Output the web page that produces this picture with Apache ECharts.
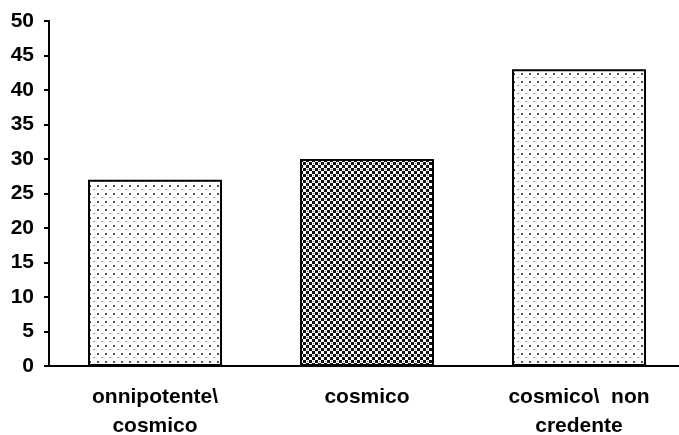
<!DOCTYPE html>
<html>
<head>
<meta charset="utf-8">
<script src="https://cdn.jsdelivr.net/npm/echarts@6/dist/echarts.min.js"></script>
<style>
  html, body { margin: 0; padding: 0; background: #fff; }
  #chart { width: 679px; height: 435px; }
</style>
</head>
<body>
<div id="chart"></div>
<script>
    var categories = ['onnipotente\\\ncosmico', 'cosmico', 'cosmico\\  non\ncredente'];
    var values = [27, 30, 43];
    var patterns = ['dots', 'check', 'dots'];

    // tile per il riempimento a puntini
    function dotTile() {
        var c = document.createElement('canvas');
        c.width = 8; c.height = 8;
        var ctx = c.getContext('2d');
        ctx.fillStyle = '#fff';
        ctx.fillRect(0, 0, 8, 8);
        ctx.fillStyle = '#555';
        ctx.fillRect(1, 1, 2, 2);
        ctx.fillStyle = '#999';
        ctx.fillRect(5, 5, 2, 1);
        return c;
    }

    // tile a scacchiera
    function checkTile() {
        var c = document.createElement('canvas');
        c.width = 6; c.height = 6;
        var ctx = c.getContext('2d');
        ctx.fillStyle = '#111';
        ctx.fillRect(0, 0, 6, 6);
        ctx.fillStyle = '#fff';
        ctx.fillRect(0, 0, 3, 3);
        ctx.fillRect(3, 3, 3, 3);
        ctx.fillStyle = '#777';
        ctx.fillRect(1, 1, 1, 1);
        return c;
    }

    var tiles = { dots: dotTile(), check: checkTile() };

    var myChart = echarts.init(document.getElementById('chart'));

    var seriesData = [];
    for (var i = 0; i < values.length; i++) {
        seriesData.push({
            value: values[i],
            itemStyle: {
                color: { image: tiles[patterns[i]], repeat: 'repeat' }
            }
        });
    }

    var option = {
        animation: false,
        backgroundColor: '#fff',
        grid: { left: 49, top: 21, width: 636, bottom: 69, outerBoundsMode: 'none', containLabel: false },
        xAxis: {
            type: 'category',
            data: categories,
            axisLine: { lineStyle: { color: '#000', width: 2 } },
            axisTick: { length: 6, lineStyle: { color: '#000', width: 2 } },
            axisLabel: {
                color: '#000',
                fontFamily: 'Liberation Sans',
                fontWeight: 'bold',
                fontSize: 21,
                lineHeight: 29,
                margin: 17
            }
        },
        yAxis: {
            type: 'value',
            min: 0,
            max: 50,
            interval: 5,
            axisLine: { show: true, lineStyle: { color: '#000', width: 2 } },
            axisTick: { show: true, length: 5, lineStyle: { color: '#000', width: 2 } },
            splitLine: { show: false },
            axisLabel: {
                color: '#000',
                fontFamily: 'Liberation Sans',
                fontWeight: 'bold',
                fontSize: 21,
                margin: 15
            }
        },
        series: [{
            type: 'bar',
            data: seriesData,
            barWidth: 134,
            itemStyle: { borderColor: '#000', borderWidth: 2 }
        }]
    };

    myChart.setOption(option);
</script>
</body>
</html>
